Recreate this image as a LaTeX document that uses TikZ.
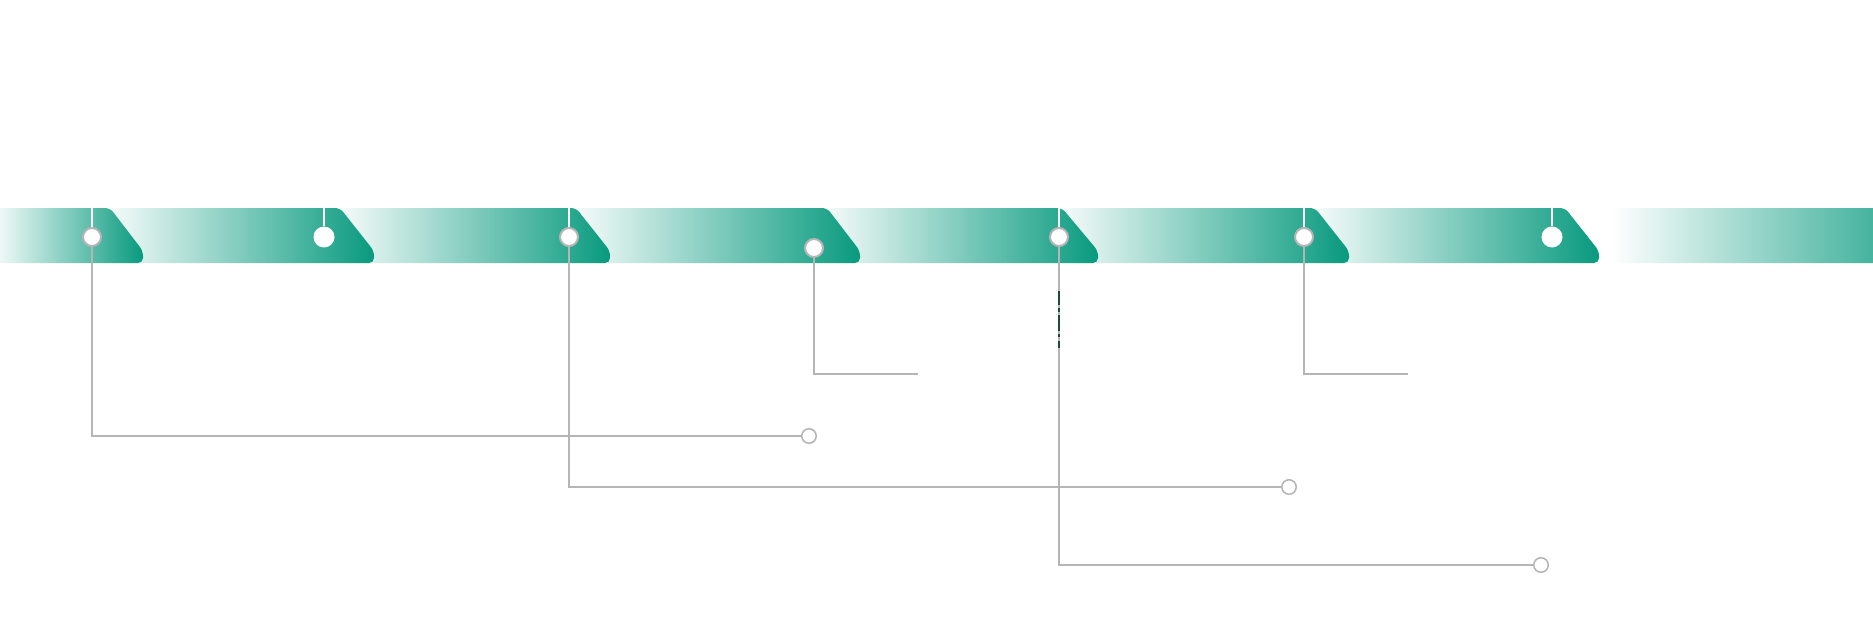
\documentclass[tikz,border=0pt]{standalone}
\definecolor{teal1}{HTML}{089A7E}
\definecolor{lgray}{HTML}{B5B5B5}
\definecolor{dmark}{HTML}{1E4A3E}
\begin{document}
\begin{tikzpicture}[x=1pt,y=-1pt,
  seg/.style={left color=white,right color=teal1,rounded corners=5pt},
  ring/.style={circle,draw=lgray,line width=2pt,fill=white,minimum size=18pt,inner sep=0pt},
  wdot/.style={circle,fill=white,minimum size=21pt,inner sep=0pt},
  endring/.style={circle,draw=lgray,line width=1.5pt,fill=white,minimum size=14.5pt,inner sep=0pt},
  conn/.style={draw=lgray,line width=1.6pt},
  tick/.style={draw=white,line width=1.6pt},
  marks/.style={draw=dmark,line width=1.5pt}]
\clip (0,0) rectangle (1873,623);
\fill[white] (0,0) rectangle (1873,623);
% bar segments, right to left
\shade[seg] (1612,208) rectangle (1960,263);
\shade[seg] (1305,208) -- (1565,208) -- (1599,251) -- (1599,263) -- (1305,263) -- cycle;
\shade[seg] (1050,208) -- (1315,208) -- (1349,251) -- (1349,263) -- (1050,263) -- cycle;
\shade[seg] (815,208) -- (1062,208) -- (1098,251) -- (1098,263) -- (815,263) -- cycle;
\shade[seg] (565,208) -- (827,208) -- (860,251) -- (860,263) -- (565,263) -- cycle;
\shade[seg] (330,208) -- (576,208) -- (610,251) -- (610,263) -- (330,263) -- cycle;
\shade[seg] (100,208) -- (340,208) -- (374,251) -- (374,263) -- (100,263) -- cycle;
\shade[seg] (-10,208) -- (110,208) -- (143,251) -- (143,263) -- (-10,263) -- cycle;
% nodes
\node[ring] (c1) at (92,237) {};
\node[wdot] (c2) at (324,237) {};
\node[ring] (c3) at (569,237) {};
\node[ring] (c4) at (814,248) {};
\node[ring] (c5) at (1059,237) {};
\node[ring] (c6) at (1304,237) {};
\node[wdot] (c7) at (1552,237) {};
\node[endring] (e1) at (809,436) {};
\node[endring] (e2) at (1289,487) {};
\node[endring] (e3) at (1541,565) {};
\coordinate (f4) at (918,374);
\coordinate (f6) at (1408,374);
\coordinate (t1) at (92,200);
\coordinate (t2) at (324,200);
\coordinate (t3) at (569,200);
\coordinate (t5) at (1059,200);
\coordinate (t6) at (1304,200);
\coordinate (t7) at (1552,200);
% white ticks
\draw[tick] (t1) -- (c1);
\draw[tick] (t2) -- (c2);
\draw[tick] (t3) -- (c3);
\draw[tick] (t5) -- (c5);
\draw[tick] (t6) -- (c6);
\draw[tick] (t7) -- (c7);
% connectors
\draw[conn] (c1) |- (e1);
\draw[conn] (c3) |- (e2);
\draw[conn] (c5) |- (e3);
\draw[conn] (c4) |- (f4);
\draw[conn] (c6) |- (f6);
% small dark marks on the fifth line
\draw[marks] (1059,291) -- (1059,305) (1059,308) -- (1059,312)
  (1059,315) -- (1059,331) (1059,334) -- (1059,337) (1059,341) -- (1059,348);
\end{tikzpicture}
\end{document}
